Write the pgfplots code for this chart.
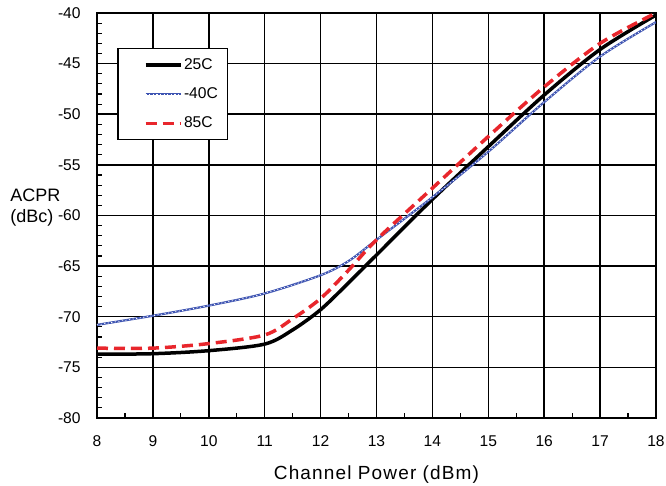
\documentclass[border=0pt]{standalone}
\usepackage{pgfplots}
\pgfplotsset{compat=1.18}
\usepackage{fontspec}
\setmainfont{Liberation Sans}
\newfontfamily\widefont[LetterSpace=6]{Liberation Sans}
\definecolor{cblue}{RGB}{62,84,178}
\definecolor{cred}{RGB}{232,38,44}
\begin{document}
\begin{tikzpicture}
\fontsize{7.5}{9}\selectfont
\begin{axis}[
    at={(0,0)}, anchor=south west,
    scale only axis,
    width=279.5pt, height=202.5pt,
    xmin=8, xmax=18, ymin=-80, ymax=-40,
    xtick={8,...,18}, ytick={-80,-75,...,-40},
    minor x tick num=1, minor y tick num=4,
    tick pos=left, tick align=inside,
    major tick length=3pt, minor tick length=2.5pt,
    grid=major,
    major grid style={black, line width=0.75pt},
    axis line style={black, line width=0.9pt},
    every tick/.style={black, line width=0.6pt},
    /pgf/number format/assume math mode=true,
    ticklabel style={font=\fontsize{7.8}{9}\selectfont},
    xticklabel style={yshift=-6pt},
    yticklabel style={xshift=-5.5pt},
    xlabel={\widefont Channel Power (dBm)},
    xlabel style={font=\fontsize{9.5}{10}\selectfont, yshift=-4.5pt},
    legend style={at={(rel axis cs:0.036,0.914)}, anchor=north west,
        draw=black, line width=0.8pt, fill=white,
        inner xsep=4pt, inner ysep=4pt, row sep=6.5pt,
        nodes={inner sep=0.8pt, font=\fontsize{7.8}{9}\selectfont}},
    legend cell align=left,
    legend image code/.code={\path (-9pt,0pt); \draw[#1] (0pt,0pt) -- (17.5pt,0pt);},
]
\addplot[black, line width=1.75pt, smooth] coordinates {
    (8,-73.7) (9,-73.65) (10,-73.35) (11,-72.7) (11.5,-71.3) (12,-69.3)
    (12.5,-66.65) (13,-63.9) (14,-58.4) (15,-53.2) (16,-48.1) (17,-43.6) (18,-40.2)};
\addplot[cblue, line width=1.1pt, smooth,
    legend image code/.code={\path (-9pt,0pt);
        \draw[cblue, line width=1.1pt] (0pt,0pt) -- (17.5pt,0pt);
        \draw[white, line width=0.35pt, dash pattern=on 0.6pt off 1.2pt] (0pt,0pt) -- (17.5pt,0pt);}]
    coordinates {
    (8,-70.8) (9,-69.9) (10,-68.9) (11,-67.7) (12,-65.9) (12.5,-64.5)
    (13,-62.4) (14,-58.2) (15,-53.7) (16,-48.8) (17,-44.3) (18,-40.9)};
\addplot[white, line width=0.35pt, dash pattern=on 0.6pt off 1.2pt, smooth, forget plot]
    coordinates {
    (8,-70.8) (9,-69.9) (10,-68.9) (11,-67.7) (12,-65.9) (12.5,-64.5)
    (13,-62.4) (14,-58.2) (15,-53.7) (16,-48.8) (17,-44.3) (18,-40.9)};
\addplot[cred, line width=1.75pt, dash pattern=on 5.5pt off 3pt, smooth] coordinates {
    (8,-73.1) (9,-73.1) (10,-72.65) (11,-71.8) (11.5,-70.2) (12,-68.2)
    (12.5,-65.4) (13,-62.4) (14,-57.3) (15,-52.2) (16,-47.3) (17,-43.0) (18,-40.0)};
\legend{25C, -40C, 85C}
\end{axis}
\node[anchor=west, align=left, inner sep=0pt, font=\fontsize{9}{10.5}\selectfont]
    at (-43.5pt,105pt) {ACPR\\(dBc)};
\pgfresetboundingbox
\path[use as bounding box] (-48.5pt,-34pt) rectangle (284.5pt,209pt);
\end{tikzpicture}
\end{document}
